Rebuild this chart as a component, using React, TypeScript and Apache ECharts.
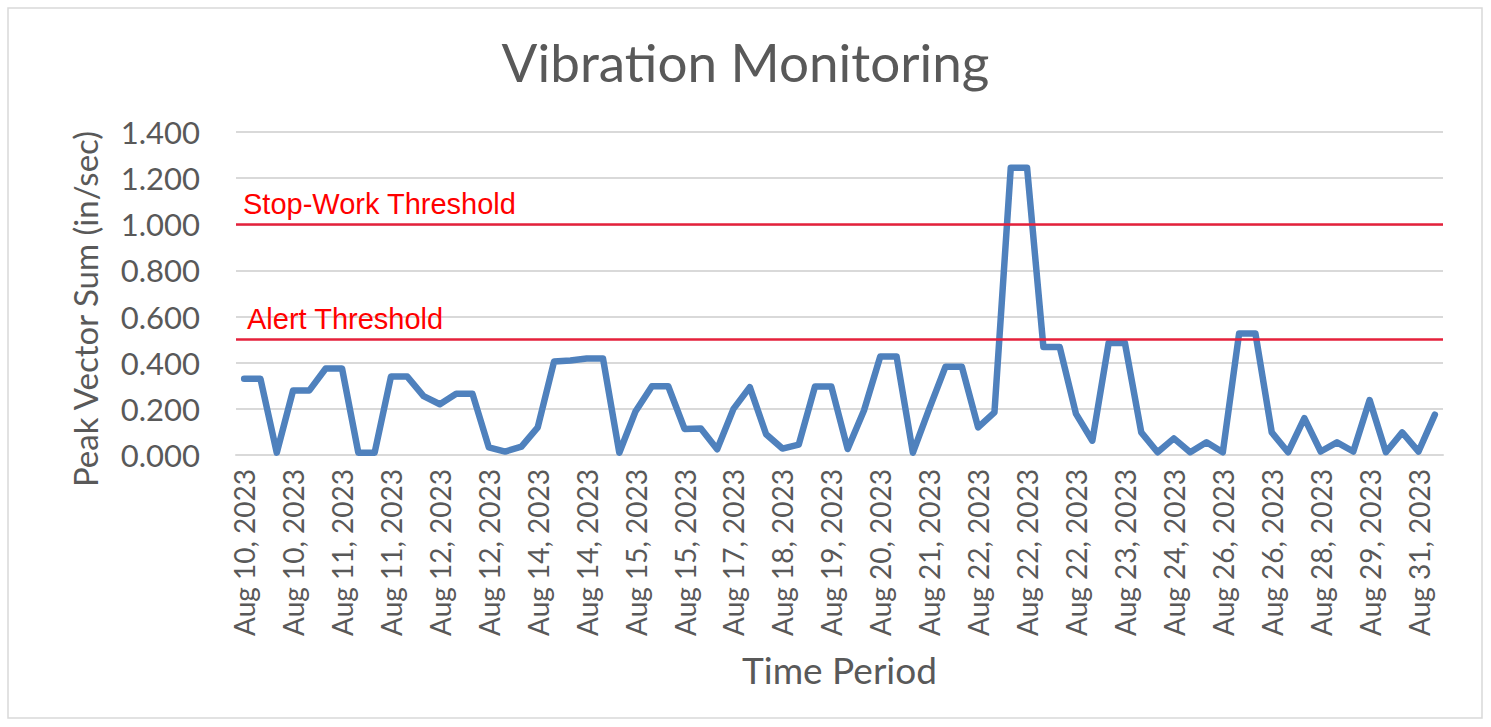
import React, { useEffect, useRef } from "react";
import * as echarts from "echarts";

const categories: string[] = [
  "Aug 10, 2023", "Aug 10, 2023", "Aug 10, 2023", "Aug 10, 2023", "Aug 10, 2023", "Aug 11, 2023",
  "Aug 11, 2023", "Aug 11, 2023", "Aug 11, 2023", "Aug 11, 2023", "Aug 11, 2023", "Aug 12, 2023",
  "Aug 12, 2023", "Aug 12, 2023", "Aug 12, 2023", "Aug 12, 2023", "Aug 13, 2023", "Aug 13, 2023",
  "Aug 14, 2023", "Aug 14, 2023", "Aug 14, 2023", "Aug 14, 2023", "Aug 14, 2023", "Aug 15, 2023",
  "Aug 15, 2023", "Aug 15, 2023", "Aug 15, 2023", "Aug 15, 2023", "Aug 16, 2023", "Aug 16, 2023",
  "Aug 17, 2023", "Aug 17, 2023", "Aug 18, 2023", "Aug 18, 2023", "Aug 18, 2023", "Aug 19, 2023",
  "Aug 19, 2023", "Aug 19, 2023", "Aug 20, 2023", "Aug 20, 2023", "Aug 20, 2023", "Aug 21, 2023",
  "Aug 21, 2023", "Aug 21, 2023", "Aug 22, 2023", "Aug 22, 2023", "Aug 22, 2023", "Aug 22, 2023",
  "Aug 22, 2023", "Aug 22, 2023", "Aug 22, 2023", "Aug 22, 2023", "Aug 23, 2023", "Aug 23, 2023",
  "Aug 23, 2023", "Aug 23, 2023", "Aug 24, 2023", "Aug 24, 2023", "Aug 25, 2023", "Aug 25, 2023",
  "Aug 26, 2023", "Aug 26, 2023", "Aug 26, 2023", "Aug 26, 2023", "Aug 27, 2023", "Aug 28, 2023",
  "Aug 28, 2023", "Aug 28, 2023", "Aug 29, 2023", "Aug 29, 2023", "Aug 30, 2023", "Aug 30, 2023",
  "Aug 31, 2023", "Aug 31, 2023",
];

const peakVectorSum: number[] = [
  0.33, 0.33, 0.01, 0.28, 0.28, 0.375, 0.375, 0.01, 0.01, 0.34,
  0.34, 0.255, 0.22, 0.265, 0.265, 0.033, 0.015, 0.036, 0.12, 0.405,
  0.41, 0.418, 0.418, 0.01, 0.19, 0.298, 0.298, 0.113, 0.115, 0.025,
  0.2, 0.294, 0.09, 0.028, 0.045, 0.297, 0.297, 0.026, 0.193, 0.427,
  0.427, 0.01, 0.2, 0.383, 0.383, 0.12, 0.185, 1.245, 1.245, 0.468,
  0.468, 0.178, 0.062, 0.485, 0.485, 0.098, 0.012, 0.072, 0.012, 0.055,
  0.012, 0.527, 0.527, 0.098, 0.012, 0.16, 0.015, 0.055, 0.015, 0.238,
  0.012, 0.098, 0.015, 0.175,
];

const thresholdNames: string[] = ["Stop-Work Threshold", "Alert Threshold"];
const thresholdValues: number[] = [1.0, 0.5];

const yTicks = { min: 0, max: 1.4, interval: 0.2 };

const TITLE = "Vibration Monitoring";
const X_NAME = "Time Period";
const Y_NAME = "Peak Vector Sum (in/sec)";

const GRAY = "#595959";
const FONT = "Lato, 'Noto Sans', sans-serif";

export default function App() {
  const ref = useRef<HTMLDivElement>(null);

  useEffect(() => {
    if (!ref.current) return;
    const chart = echarts.init(ref.current, undefined, { renderer: "svg" });
    const labelOffsets = [7, 11];
    chart.setOption({
      animation: false,
      backgroundColor: "#ffffff",
      title: {
        text: TITLE,
        left: "center",
        top: 30,
        textStyle: { color: GRAY, fontSize: 53, fontWeight: "normal", fontFamily: FONT },
      },
      grid: { left: 236, right: 48, top: 132, bottom: 272, containLabel: false },
      xAxis: {
        type: "category",
        data: categories,
        boundaryGap: true,
        name: X_NAME,
        nameLocation: "middle",
        nameGap: 196,
        nameTextStyle: { color: GRAY, fontSize: 37, fontFamily: FONT },
        axisLine: { show: true, lineStyle: { color: "#d9d9d9", width: 2 } },
        axisTick: { show: false },
        axisLabel: {
          interval: 2,
          rotate: 90,
          margin: 14,
          color: GRAY,
          fontSize: 28,
          fontFamily: FONT,
        },
      },
      yAxis: {
        type: "value",
        min: yTicks.min,
        max: yTicks.max,
        interval: yTicks.interval,
        axisLine: { show: false },
        axisTick: { show: false },
        axisLabel: {
          color: GRAY,
          fontSize: 31,
          fontFamily: FONT,
          margin: 36,
          formatter: (v: number) => v.toFixed(3),
        },
        splitLine: { lineStyle: { color: "#d9d9d9", width: 2 } },
      },
      graphic: [
        {
          type: "rect",
          shape: { x: 8, y: 8, width: 1474, height: 710 },
          style: { fill: "none", stroke: "#d9d9d9", lineWidth: 1.5 },
          silent: true,
        },
        {
          type: "text",
          x: 85,
          y: 309,
          rotation: Math.PI / 2,
          style: {
            text: Y_NAME,
            fill: GRAY,
            font: `33px ${FONT}`,
            textAlign: "center",
            textVerticalAlign: "middle",
          },
          silent: true,
        },
      ],
      series: [
        {
          name: "Thresholds",
          type: "line",
          data: [],
          z: 1,
          markLine: {
            silent: true,
            symbol: "none",
            animation: false,
            lineStyle: { color: "#e5213b", width: 2.5, type: "solid" },
            data: thresholdValues.map((v, i) => ({
              yAxis: v,
              name: thresholdNames[i],
              label: {
                show: true,
                position: "insideStartTop",
                formatter: thresholdNames[i],
                color: "#ff0000",
                fontSize: 29,
                fontFamily: "'Liberation Sans', Arial, sans-serif",
                distance: [labelOffsets[i], 6],
              },
            })),
          },
        },
        {
          name: "Peak Vector Sum",
          type: "line",
          data: peakVectorSum,
          z: 3,
          symbol: "none",
          lineStyle: { color: "#4f81bd", width: 6.5, join: "round", cap: "round" },
          itemStyle: { color: "#4f81bd" },
        },
      ],
    });
    return () => chart.dispose();
  }, []);

  return (
    <div
      ref={ref}
      style={{ position: "absolute", left: 0, top: 0, width: 1491, height: 727, background: "#fff" }}
    />
  );
}
